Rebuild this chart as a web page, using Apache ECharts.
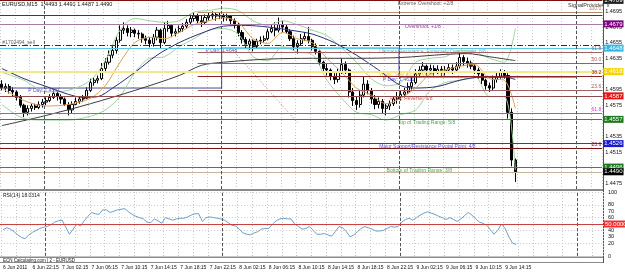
<!DOCTYPE html>
<html>
<head>
<meta charset="utf-8">
<script src="https://cdn.jsdelivr.net/npm/echarts@6/dist/echarts.min.js"></script>
<style>
  html, body { margin: 0; padding: 0; background: #fff; }
  #chart { width: 625px; height: 275px; }
</style>
</head>
<body>
<div id="chart"></div>
<script>
// EURUSD M15, 6-9 Jun 2011, drawn with 30 min candles
const barCount = 163;          // visible slots incl. right shift
const start = Date.UTC(2011, 5, 6, 18, 15);
const pad = n => (n < 10 ? '0' : '') + n;
const categories = [];
for (let i = 0; i < barCount; i++) {
    const d = new Date(start + i * 30 * 60000);
    categories.push(d.getUTCDate() + ' Jun ' + pad(d.getUTCHours()) + ':' + pad(d.getUTCMinutes()));
}
const tickLabels = ['6 Jun 2011', '6 Jun 22:15', '7 Jun 02:15', '7 Jun 06:15', '7 Jun 10:15', '7 Jun 14:15',
    '7 Jun 18:15', '7 Jun 22:15', '8 Jun 02:15', '8 Jun 06:15', '8 Jun 10:15', '8 Jun 14:15',
    '8 Jun 18:15', '8 Jun 22:15', '9 Jun 02:15', '9 Jun 06:15', '9 Jun 10:15', '9 Jun 14:15'];
const priceTicks = [1.4475, 1.4495, 1.4515, 1.4535, 1.4555, 1.4575, 1.4595, 1.4615, 1.4635, 1.4655, 1.4675, 1.4695];
const rsiTicks = [0, 20, 30, 40, 60, 70, 80, 100];

// [open, close, low, high]
const ohlc = [
    [1.4602, 1.4597, 1.4594, 1.4607], [1.4597, 1.4599, 1.4592, 1.4603], [1.4599, 1.4594, 1.4590, 1.4602],
    [1.4594, 1.4592, 1.4586, 1.4598], [1.4592, 1.4585, 1.4581, 1.4594], [1.4585, 1.4575, 1.4572, 1.4588],
    [1.4575, 1.4566, 1.4560, 1.4577], [1.4566, 1.4571, 1.4562, 1.4575], [1.4571, 1.4574, 1.4567, 1.4577],
    [1.4574, 1.4572, 1.4569, 1.4577], [1.4572, 1.4576, 1.4570, 1.4580], [1.4576, 1.4579, 1.4572, 1.4583],
    [1.4579, 1.4581, 1.4575, 1.4585], [1.4581, 1.4585, 1.4579, 1.4589], [1.4585, 1.4590, 1.4583, 1.4594],
    [1.4590, 1.4586, 1.4581, 1.4593], [1.4586, 1.4583, 1.4577, 1.4589], [1.4583, 1.4576, 1.4574, 1.4585],
    [1.4576, 1.4569, 1.4562, 1.4579], [1.4569, 1.4576, 1.4565, 1.4580], [1.4576, 1.4580, 1.4575, 1.4585],
    [1.4580, 1.4583, 1.4577, 1.4586], [1.4583, 1.4584, 1.4579, 1.4588], [1.4584, 1.4594, 1.4583, 1.4598],
    [1.4594, 1.4604, 1.4592, 1.4609], [1.4604, 1.4607, 1.4600, 1.4611], [1.4607, 1.4609, 1.4603, 1.4613],
    [1.4609, 1.4622, 1.4607, 1.4629], [1.4622, 1.4630, 1.4618, 1.4635], [1.4630, 1.4639, 1.4627, 1.4645],
    [1.4639, 1.4645, 1.4635, 1.4652], [1.4645, 1.4658, 1.4641, 1.4663], [1.4658, 1.4671, 1.4655, 1.4677],
    [1.4671, 1.4673, 1.4666, 1.4681], [1.4673, 1.4668, 1.4663, 1.4677], [1.4668, 1.4671, 1.4662, 1.4675],
    [1.4671, 1.4667, 1.4662, 1.4673], [1.4667, 1.4666, 1.4660, 1.4671], [1.4666, 1.4660, 1.4655, 1.4668],
    [1.4660, 1.4658, 1.4653, 1.4664], [1.4658, 1.4654, 1.4649, 1.4662], [1.4654, 1.4662, 1.4650, 1.4666],
    [1.4662, 1.4671, 1.4658, 1.4675], [1.4671, 1.4655, 1.4648, 1.4673], [1.4655, 1.4673, 1.4653, 1.4681],
    [1.4673, 1.4677, 1.4669, 1.4683], [1.4677, 1.4667, 1.4662, 1.4678], [1.4667, 1.4669, 1.4663, 1.4673],
    [1.4669, 1.4673, 1.4667, 1.4677], [1.4673, 1.4676, 1.4669, 1.4680], [1.4676, 1.4681, 1.4673, 1.4685],
    [1.4681, 1.4686, 1.4678, 1.4691], [1.4686, 1.4689, 1.4682, 1.4694], [1.4689, 1.4683, 1.4680, 1.4692],
    [1.4683, 1.4681, 1.4675, 1.4690], [1.4681, 1.4687, 1.4678, 1.4691], [1.4687, 1.4689, 1.4683, 1.4694],
    [1.4689, 1.4691, 1.4685, 1.4695], [1.4691, 1.4689, 1.4683, 1.4694], [1.4689, 1.4690, 1.4685, 1.4694],
    [1.4690, 1.4687, 1.4682, 1.4692], [1.4687, 1.4689, 1.4683, 1.4692], [1.4689, 1.4683, 1.4677, 1.4690],
    [1.4683, 1.4678, 1.4673, 1.4686], [1.4678, 1.4668, 1.4663, 1.4680], [1.4668, 1.4659, 1.4654, 1.4671],
    [1.4659, 1.4653, 1.4648, 1.4662], [1.4653, 1.4657, 1.4646, 1.4660], [1.4657, 1.4650, 1.4644, 1.4659],
    [1.4650, 1.4657, 1.4648, 1.4660], [1.4657, 1.4658, 1.4653, 1.4663], [1.4658, 1.4660, 1.4655, 1.4664],
    [1.4660, 1.4669, 1.4658, 1.4673], [1.4669, 1.4673, 1.4667, 1.4678], [1.4673, 1.4671, 1.4663, 1.4681],
    [1.4671, 1.4678, 1.4668, 1.4687], [1.4678, 1.4675, 1.4668, 1.4683], [1.4675, 1.4669, 1.4666, 1.4678],
    [1.4669, 1.4660, 1.4657, 1.4672], [1.4660, 1.4650, 1.4645, 1.4664], [1.4650, 1.4654, 1.4641, 1.4658],
    [1.4654, 1.4660, 1.4652, 1.4666], [1.4660, 1.4663, 1.4657, 1.4668], [1.4663, 1.4658, 1.4654, 1.4675],
    [1.4658, 1.4650, 1.4645, 1.4660], [1.4650, 1.4644, 1.4640, 1.4654], [1.4644, 1.4630, 1.4626, 1.4645],
    [1.4630, 1.4622, 1.4617, 1.4632], [1.4622, 1.4620, 1.4613, 1.4629], [1.4620, 1.4612, 1.4607, 1.4622],
    [1.4612, 1.4608, 1.4602, 1.4616], [1.4608, 1.4617, 1.4604, 1.4622], [1.4617, 1.4627, 1.4615, 1.4635],
    [1.4627, 1.4620, 1.4615, 1.4631], [1.4620, 1.4592, 1.4585, 1.4622], [1.4592, 1.4581, 1.4574, 1.4597],
    [1.4581, 1.4576, 1.4569, 1.4586], [1.4576, 1.4588, 1.4572, 1.4594], [1.4588, 1.4602, 1.4585, 1.4611],
    [1.4602, 1.4594, 1.4589, 1.4607], [1.4594, 1.4583, 1.4577, 1.4597], [1.4583, 1.4576, 1.4570, 1.4588],
    [1.4576, 1.4580, 1.4571, 1.4585], [1.4580, 1.4571, 1.4565, 1.4583], [1.4571, 1.4574, 1.4562, 1.4577],
    [1.4574, 1.4577, 1.4569, 1.4581], [1.4577, 1.4583, 1.4574, 1.4586], [1.4583, 1.4586, 1.4577, 1.4592],
    [1.4586, 1.4589, 1.4581, 1.4594], [1.4589, 1.4592, 1.4585, 1.4597], [1.4592, 1.4599, 1.4590, 1.4604],
    [1.4599, 1.4604, 1.4595, 1.4611], [1.4604, 1.4615, 1.4602, 1.4621], [1.4615, 1.4620, 1.4611, 1.4625],
    [1.4620, 1.4625, 1.4616, 1.4630], [1.4625, 1.4620, 1.4613, 1.4627], [1.4620, 1.4622, 1.4615, 1.4627],
    [1.4622, 1.4618, 1.4613, 1.4626], [1.4618, 1.4621, 1.4615, 1.4626], [1.4621, 1.4617, 1.4612, 1.4625],
    [1.4617, 1.4620, 1.4613, 1.4625], [1.4620, 1.4623, 1.4616, 1.4629], [1.4623, 1.4620, 1.4615, 1.4627],
    [1.4620, 1.4625, 1.4617, 1.4630], [1.4625, 1.4636, 1.4622, 1.4643], [1.4636, 1.4631, 1.4625, 1.4639],
    [1.4631, 1.4629, 1.4623, 1.4636], [1.4629, 1.4625, 1.4621, 1.4632], [1.4625, 1.4620, 1.4615, 1.4629],
    [1.4620, 1.4615, 1.4609, 1.4623], [1.4615, 1.4607, 1.4602, 1.4617], [1.4607, 1.4600, 1.4595, 1.4609],
    [1.4600, 1.4597, 1.4592, 1.4604], [1.4597, 1.4608, 1.4594, 1.4613], [1.4608, 1.4612, 1.4604, 1.4617],
    [1.4612, 1.4617, 1.4609, 1.4621], [1.4617, 1.4613, 1.4609, 1.4620], [1.4613, 1.4566, 1.4558, 1.4616],
    [1.4566, 1.4505, 1.4497, 1.4571], [1.4505, 1.4490, 1.4477, 1.4507]
];

const rsi = [
    41, 44, 42, 38, 33, 29, 27, 33, 37, 40, 43, 45, 46, 49, 53, 55, 56, 45, 34, 42,
    50, 47, 55, 62, 68, 66, 65, 72, 72, 68, 70, 72, 73, 74, 69, 65, 62, 60, 58, 53,
    52, 58, 55, 51, 60, 58, 56, 58, 59, 59, 61, 64, 66, 66, 54, 60, 61, 60, 59, 58,
    56, 52, 48, 47, 42, 36, 34, 33, 36, 38, 42, 43, 43, 50, 55, 58, 59, 58, 58, 50,
    46, 42, 43, 46, 40, 34, 34, 35, 33, 31, 38, 46, 44, 38, 30, 33, 38, 43, 46, 44,
    42, 39, 39, 40, 43, 46, 45, 46, 53, 57, 59, 56, 60, 64, 67, 69, 67, 65, 62, 60,
    57, 60, 57, 54, 58, 63, 68, 64, 58, 53, 51, 48, 41, 34, 40, 50, 43, 30, 20, 18.0314
];

// indicator lines, [bar index, price]
const maFast = [[0, 1.4597], [6, 1.4581], [12, 1.4574], [18, 1.4576], [24, 1.4584], [28, 1.4600], [32, 1.4630],
    [36, 1.4655], [40, 1.4662], [44, 1.4660], [48, 1.4668], [52, 1.4678], [56, 1.4683], [60, 1.4687], [64, 1.4681],
    [68, 1.4660], [72, 1.4654], [76, 1.4668], [80, 1.4660], [84, 1.4655], [88, 1.4635], [92, 1.4617], [96, 1.4597],
    [100, 1.4588], [104, 1.4577], [108, 1.4584], [112, 1.4597], [116, 1.4615], [120, 1.4620], [124, 1.4625],
    [128, 1.4627], [132, 1.4609], [136, 1.4607], [139, 1.4571]];
const bandUpper = [[0, 1.4617], [6, 1.4607], [12, 1.4592], [18, 1.4594], [24, 1.4607], [28, 1.4632], [32, 1.4671],
    [36, 1.4686], [40, 1.4683], [44, 1.4681], [48, 1.4683], [52, 1.4694], [56, 1.4696], [60, 1.4699], [64, 1.4696],
    [68, 1.4683], [72, 1.4677], [76, 1.4683], [80, 1.4678], [84, 1.4671], [88, 1.4664], [92, 1.4648], [96, 1.4630],
    [100, 1.4609], [104, 1.4600], [108, 1.4604], [112, 1.4630], [116, 1.4635], [120, 1.4637], [124, 1.4645],
    [128, 1.4643], [132, 1.4635], [136, 1.4630], [139, 1.4673]];
const bandLower = [[0, 1.4576], [6, 1.4558], [12, 1.4556], [18, 1.4556], [24, 1.4561], [28, 1.4569], [32, 1.4586],
    [36, 1.4617], [40, 1.4635], [44, 1.4637], [48, 1.4650], [52, 1.4660], [56, 1.4671], [60, 1.4673], [64, 1.4666],
    [68, 1.4637], [72, 1.4632], [76, 1.4650], [80, 1.4643], [84, 1.4640], [88, 1.4607], [92, 1.4584], [96, 1.4566],
    [100, 1.4563], [104, 1.4556], [108, 1.4563], [112, 1.4569], [116, 1.4594], [120, 1.4604], [124, 1.4607],
    [128, 1.4612], [132, 1.4586], [136, 1.4586], [139, 1.4492]];
const maMid = [[0, 1.4622], [6, 1.4609], [12, 1.4599], [18, 1.4589], [22, 1.4585], [26, 1.4586], [30, 1.4597],
    [36, 1.4617], [42, 1.4639], [48, 1.4655], [54, 1.4667], [60, 1.4676], [66, 1.4677], [72, 1.4675], [78, 1.4671],
    [84, 1.4666], [90, 1.4655], [96, 1.4639], [102, 1.4620], [108, 1.4600], [112, 1.4597], [118, 1.4599],
    [124, 1.4607], [130, 1.4611], [136, 1.4611], [139, 1.4608]];
const maSlow = [[0, 1.4549], [12, 1.4562], [24, 1.4577], [36, 1.4594], [48, 1.4613], [54, 1.4626], [60, 1.4630],
    [72, 1.4634], [84, 1.4635], [96, 1.4635], [108, 1.4636], [120, 1.4640], [126, 1.4641], [132, 1.4637], [139, 1.4632]];

// Murrey math levels +2/8 .. 3/8
const murreyPrices = [1.4709, 1.4679, 1.4648, 1.4618, 1.4587, 1.4557, 1.4526, 1.4496];
const murreyNames = ['Extreme Overshoot: +2/8', 'Overshoot: +1/8', 'Ultimate Resistance, Extremely Overbought: 8/8',
    'Weak, Stall and Reverse: 7/8', 'Pivot, Reverse: 6/8', 'Top of Trading Range: 5/8',
    'Major Support/Resistance Pivotal Point: 4/8', 'Bottom of Trading Range: 3/8'];
// fibonacci retracement levels (start bar, price, label)
const fibStarts = [53, 53, 53, 53, 53, -0.5, -0.5];
const fibPrices = [1.4694, 1.4643, 1.4629, 1.4612, 1.4594, 1.4565, 1.4520];
const fibNames = ['100.0', '61.8', '50.0', '38.2', '23.6', '61.8', '23.6'];
// daily pivots: day start (bar boundary) and value
const pivotStarts = [-0.5, 59.5, 107.5, 155.5];
const pivotValues = [1.4597, 1.4648, 1.4611];
const pivotNames = ['P Day: 1.4597', 'P Day: 1.4648', 'P Day: 1.4611'];
// dotted trend line: [bar, price] pairs
const trendLine = [[62, 1.4648], [80, 1.4553]];
const sellOrder = 1.4652;
const bid = 1.4490;
const topLine = 1.4690;
const daySeparators = [11.5, 59.5, 107.5, 155.5];

const yMin = 1.4468, yMax = 1.47095;
const xEnd = barCount - 0.5;
const font = 'Liberation Sans';

const murreyStyle = [
    { line: '#7a1010', box: '#202020', text: '#333333' },
    { line: '#a67ca6', box: '#800080', text: '#800080' },
    { line: '#5fc6e6', box: '#38b4e0', text: '#30a0d0' },
    { line: '#f3e98a', box: '#f5d400', text: '#d8c400', width: 2 },
    { line: '#8e4a4a', box: '#e81010', text: '#d02020' },
    { line: '#2f8a2f', box: '#1c7a1c', text: '#2a8a2a' },
    { line: '#3a3aa0', box: '#1a1ad0', text: '#2828c0' },
    { line: '#3a8a3a', box: '#1c7a1c', text: '#2a8a2a' }
];
const fibColors = ['#b58a6a', '#a06060', '#a06060', '#8b2020', '#a06060', '#d040d0', '#7a1010'];

function boxLabel(bg, txt) {
    return {
        show: true, position: 'end', distance: 1, formatter: txt,
        backgroundColor: bg, color: '#fff', fontSize: 6, fontFamily: font,
        padding: [1, 1, 0, 1]
    };
}

function hLine(from, p, style, label) {
    return [
        { coord: [from, p], lineStyle: style, label: label || { show: false } },
        { coord: [xEnd, p] }
    ];
}

const levelLines = [];
levelLines.push(hLine(-0.5, topLine, { color: '#8b1a1a', width: 1, type: 'solid' }));
levelLines.push(hLine(-0.5, sellOrder, { color: '#303030', width: 1, type: [6, 2, 1, 2] }));
fibPrices.forEach((p, k) => {
    levelLines.push(hLine(fibStarts[k], p, { color: fibColors[k], width: 1, type: 'solid' },
        { show: true, position: 'insideEndTop', distance: 1, formatter: fibNames[k], color: fibColors[k], fontSize: 5, fontFamily: font }));
});
murreyPrices.forEach((p, k) => {
    const s = murreyStyle[k];
    levelLines.push(hLine(-0.5, p, { color: s.line, width: s.width || 1, type: 'solid' },
        s.box ? boxLabel(s.box, p.toFixed(4)) : null));
});
levelLines.push(hLine(-0.5, bid, { color: '#c8b49a', width: 1, type: 'solid' }, boxLabel('#000', bid.toFixed(4))));
levelLines.push([
    { coord: trendLine[0], lineStyle: { color: '#c07070', width: 1, type: [1, 2] }, label: { show: false } },
    { coord: trendLine[1] }
]);

const pivotLine = [];
pivotValues.forEach((v, k) => {
    pivotLine.push([pivotStarts[k], v]);
    pivotLine.push([pivotStarts[k + 1], v]);
});

const noteX = [107, 109, 102, 102, 105, 107, 102, 104];
const notes = [];
murreyNames.forEach((t, k) => {
    notes.push({ value: [noteX[k], murreyPrices[k] - 0.0004], label: { formatter: t, color: murreyStyle[k].text } });
});
[7, 55, 103].forEach((x, k) => {
    notes.push({ value: [x, pivotValues[k] - 0.0003], label: { formatter: pivotNames[k], color: '#2a2ad0' } });
});
notes.push({ value: [0, sellOrder + 0.0003], label: { formatter: '#1702494_sell', color: '#333' } });

const chart = echarts.init(document.getElementById('chart'), null, { renderer: 'canvas' });
const option = {
    animation: false,
    backgroundColor: '#ffffff',
    textStyle: { fontFamily: font },
    grid: [
        { left: 0, right: 22, top: 0, height: 189 },
        { left: 0, right: 22, top: 192, height: 64 }
    ],
    xAxis: [
        {
            type: 'category', gridIndex: 0, data: categories, boundaryGap: true,
            axisLine: { show: false }, axisTick: { show: false }, axisLabel: { show: false },
            splitLine: { show: true, interval: 3, lineStyle: { color: '#c8c8c8', type: [1, 2] } }
        },
        { type: 'value', gridIndex: 0, min: -0.5, max: xEnd, show: false },
        {
            type: 'category', gridIndex: 1, data: categories, boundaryGap: true,
            axisLine: { show: false },
            axisTick: { show: false },
            axisLabel: {
                show: true, interval: i => i % 8 === 0 && i <= 136, showMinLabel: true,
                align: 'left', margin: 9, fontSize: 5, color: '#111', fontFamily: font,
                formatter: (v, i) => tickLabels[i / 8]
            },
            splitLine: { show: true, interval: 3, lineStyle: { color: '#c8c8c8', type: [1, 2] } }
        },
        { type: 'value', gridIndex: 1, min: -0.5, max: xEnd, show: false }
    ],
    yAxis: [
        {
            type: 'value', gridIndex: 0, position: 'right', min: yMin, max: yMax,
            axisLine: { show: false }, axisTick: { show: false }, splitLine: { show: false },
            axisLabel: { customValues: priceTicks, formatter: v => v.toFixed(4), fontSize: 5.5, color: '#111', margin: 3, fontFamily: font }
        },
        {
            type: 'value', gridIndex: 1, position: 'right', min: 0, max: 100, interval: 20,
            axisLine: { show: false }, axisTick: { show: false },
            splitLine: { show: true, lineStyle: { color: '#c8c8c8', type: [1, 2] } },
            axisLabel: { customValues: rsiTicks, fontSize: 5.5, color: '#111', margin: 5, fontFamily: font }
        }
    ],
    series: [
        {
            name: 'levels', type: 'line', xAxisIndex: 1, yAxisIndex: 0, data: [], silent: true,
            markLine: { silent: true, symbol: 'none', animation: false, data: levelLines }
        },
        {
            name: 'separators', type: 'line', xAxisIndex: 1, yAxisIndex: 0, data: [], silent: true,
            markLine: { silent: true, symbol: 'none', label: { show: false },
                lineStyle: { color: '#555', type: [3, 2], width: 1 },
                data: daySeparators.map(v => ({ xAxis: v })) }
        },
        {
            name: 'separators rsi', type: 'line', xAxisIndex: 3, yAxisIndex: 1, data: [], silent: true,
            markLine: { silent: true, symbol: 'none', label: { show: false },
                lineStyle: { color: '#555', type: [3, 2], width: 1 },
                data: daySeparators.map(v => ({ xAxis: v })) }
        },
        {
            name: 'pivot', type: 'line', xAxisIndex: 1, yAxisIndex: 0, data: pivotLine, symbol: 'none',
            lineStyle: { color: '#4a4a9a', width: 1 }
        },
        { name: 'band upper', type: 'line', xAxisIndex: 1, yAxisIndex: 0, data: bandUpper, symbol: 'none', smooth: 0.3,
          lineStyle: { color: '#9dd49d', width: 1 } },
        { name: 'band lower', type: 'line', xAxisIndex: 1, yAxisIndex: 0, data: bandLower, symbol: 'none', smooth: 0.3,
          lineStyle: { color: '#9dd49d', width: 1 } },
        { name: 'slow', type: 'line', xAxisIndex: 1, yAxisIndex: 0, data: maSlow, symbol: 'none', smooth: 0.3,
          lineStyle: { color: '#3c3c3c', width: 1 } },
        { name: 'mid', type: 'line', xAxisIndex: 1, yAxisIndex: 0, data: maMid, symbol: 'none', smooth: 0.3,
          lineStyle: { color: '#2c2c7a', width: 1 } },
        { name: 'fast', type: 'line', xAxisIndex: 1, yAxisIndex: 0, data: maFast, symbol: 'none', smooth: 0.3,
          lineStyle: { color: '#e0a050', width: 1 } },
        {
            name: 'EURUSD', type: 'candlestick', xAxisIndex: 0, yAxisIndex: 0, data: ohlc,
            barWidth: 2.6,
            itemStyle: { color: '#ffffff', color0: '#000000', borderColor: '#000000', borderColor0: '#000000', borderWidth: 1 }
        },
        {
            name: 'notes', type: 'scatter', xAxisIndex: 1, yAxisIndex: 0, data: notes,
            symbolSize: 1, itemStyle: { color: 'rgba(0,0,0,0)' }, silent: true,
            label: { show: true, position: 'right', distance: 0, fontSize: 5, fontFamily: font }
        },
        {
            name: 'RSI(14)', type: 'line', xAxisIndex: 2, yAxisIndex: 1, data: rsi, symbol: 'none',
            lineStyle: { color: '#6d9fca', width: 1 },
            markLine: {
                silent: true, symbol: 'none',
                data: [[{ coord: [0, 50], x: 0, lineStyle: { color: '#c84040', width: 1, type: 'solid' },
                          label: boxLabel('#f03030', '50.0000') }, { coord: [barCount - 1, 50], x: 603 }]]
            }
        }
    ],
    graphic: [
        { type: 'rect', shape: { x: 0, y: 189, width: 603, height: 2 }, style: { fill: '#8a8a8a' } },
        { type: 'rect', shape: { x: 0, y: 256.5, width: 603, height: 1.5 }, style: { fill: '#8a8a8a' } },
        { type: 'rect', shape: { x: 0, y: 262, width: 603, height: 1 }, style: { fill: '#8a8a8a' } },
        { type: 'rect', shape: { x: 603, y: 0, width: 1, height: 263 }, style: { fill: '#555' } },
        { type: 'text', left: 2, top: 1, style: { text: 'EURUSD,M15  1.4493 1.4493 1.4487 1.4490', fontSize: 5.5, fill: '#111', fontFamily: font } },
        { type: 'text', left: 3, top: 193, style: { text: 'RSI(14) 18.0314', fontSize: 5, fill: '#111', fontFamily: font } },
        { type: 'text', left: 3, top: 258, style: { text: 'ECN Calculating.com | 2 - EURUSD', fontSize: 4.5, fill: '#111', fontFamily: font } },
        { type: 'text', left: 568, top: 2, style: { text: 'SignalProvider  x', fontSize: 5.5, fill: '#333', fontFamily: font } }
    ]
};
chart.setOption(option);
</script>
</body>
</html>
